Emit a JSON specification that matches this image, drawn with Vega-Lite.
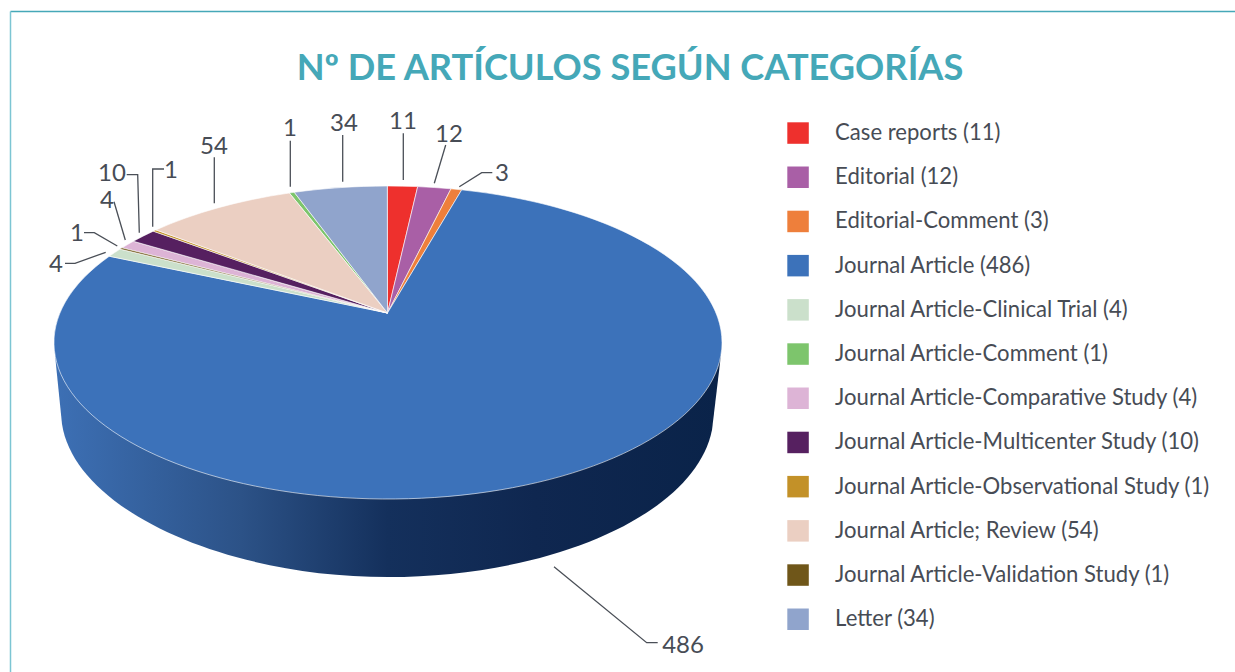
{"$schema":"https://vega.github.io/schema/vega-lite/v6.json","width":1225,"height":661,"padding":{"left":10,"top":11,"right":0,"bottom":0},"autosize":"none","background":"white",
"title":{"text":"Nº DE ARTÍCULOS SEGÚN CATEGORÍAS","font":"Lato","fontWeight":"bold","fontSize":36.2,"color":"#45A8B8","anchor":"middle","dx":7.5,"offset":-105,"baseline":"alphabetic"},
"config":{"view":{"stroke":null},"axis":{"labels":false,"ticks":false,"grid":false,"title":null,"domainWidth":1.5},"axisX":{"domainColor":"#45A8B8"},"axisY":{"domainColor":"#7CC5D3"}},
"data":{"values":[
{"name":"Case reports (11)","count":11},{"name":"Editorial (12)","count":12},{"name":"Editorial-Comment (3)","count":3},{"name":"Journal Article (486)","count":486},{"name":"Journal Article-Clinical Trial (4)","count":4},{"name":"Journal Article-Comment (1)","count":1},{"name":"Journal Article-Comparative Study (4)","count":4},{"name":"Journal Article-Multicenter Study (10)","count":10},{"name":"Journal Article-Observational Study (1)","count":1},{"name":"Journal Article; Review (54)","count":54},{"name":"Journal Article-Validation Study (1)","count":1},{"name":"Letter (34)","count":34}]},
"encoding":{
"x":{"datum":0,"type":"quantitative","scale":{"domain":[-377.5,847.5],"nice":false,"zero":false},"axis":{"orient":"top"}},
"y":{"datum":0,"type":"quantitative","scale":{"domain":[-302,359],"reverse":true,"nice":false,"zero":false},"axis":{"orient":"left"}}},
"resolve":{"scale":{"shape":"independent"}},
"layer":[
{"transform":[{"filter":"datum.count == 486"}],"mark":{"type":"point","filled":true,"opacity":1,"size":4,"shape":"M-333.5 29L-331.5 52L-325.5 111C-312.5 197 -162.5 264 0.5 264C162.5 264 307.5 202 324.5 117L332.5 50L334.5 29Z","fill":{"gradient":"linear","x1":0,"y1":0,"x2":1,"y2":0,"stops":[{"offset":0,"color":"#3D70B5"},{"offset":0.28,"color":"#2C5287"},{"offset":0.5,"color":"#14305C"},{"offset":0.72,"color":"#0F2750"},{"offset":1,"color":"#0A2349"}]}}},
{"mark":{"type":"point","filled":true,"opacity":1,"size":4,"stroke":"white","strokeWidth":0.6},"encoding":{
"color":{"field":"name","type":"nominal","scale":{"domain":["Case reports (11)","Editorial (12)","Editorial-Comment (3)","Journal Article (486)","Journal Article-Clinical Trial (4)","Journal Article-Comment (1)","Journal Article-Comparative Study (4)","Journal Article-Multicenter Study (10)","Journal Article-Observational Study (1)","Journal Article; Review (54)","Journal Article-Validation Study (1)","Letter (34)"],"range":["#EE302D","#A95FA6","#EE7F3B","#3C72BA","#CBE0CB","#7DC56C","#DDB4D6","#562060","#C39128","#EBCFC2","#6F5619","#90A4CC"]},
"legend":{"orient":"none","legendX":777,"legendY":111,"title":null,"padding":0,"symbolType":"square","symbolSize":462,"symbolStrokeWidth":0,"symbolOpacity":1,"labelFont":"Lato","labelFontSize":22.1,"labelColor":"#474C55","labelOffset":26,"labelLimit":420,"rowPadding":21.2}},
"shape":{"field":"name","type":"nominal","legend":null,"scale":{"domain":["Case reports (11)","Editorial (12)","Editorial-Comment (3)","Journal Article (486)","Journal Article-Clinical Trial (4)","Journal Article-Comment (1)","Journal Article-Comparative Study (4)","Journal Article-Multicenter Study (10)","Journal Article-Observational Study (1)","Journal Article; Review (54)","Journal Article-Validation Study (1)","Letter (34)"],"range":[
"M0 0L-0.2 -127A334 156.5 0 0 1 30.2 -126.38Z",
"M0 0L30.2 -126.38A334 156.5 0 0 1 63.5 -124.19Z",
"M0 0L63.5 -124.19A334 156.5 0 0 1 74.2 -123.14Z",
"M0 0L74.2 -123.14A334 156.5 0 1 1 -278.2 -56.75Z",
"M0 0L-278.2 -56.75A334 156.5 0 0 1 -267.5 -63.9Z",
"M0 0L-98.2 -120A334 156.5 0 0 1 -93.2 -120.7Z",
"M0 0L-265.5 -65.14A334 156.5 0 0 1 -254.2 -71.74Z",
"M0 0L-254.2 -71.74A334 156.5 0 0 1 -234.2 -81.84Z",
"M0 0L-234.2 -81.84A334 156.5 0 0 1 -231.5 -83.08Z",
"M0 0L-231.5 -83.08A334 156.5 0 0 1 -98.2 -120Z",
"M0 0L-267.5 -63.9A334 156.5 0 0 1 -265.5 -65.14Z",
"M0 0L-93.2 -120.7A334 156.5 0 0 1 -0.2 -127Z"]}}}},
{"mark":{"type":"point","filled":false,"opacity":1,"size":4,"stroke":"#4A4F57","strokeWidth":1.3},"encoding":{
"shape":{"field":"name","type":"nominal","legend":null,"scale":{"domain":["Case reports (11)","Editorial (12)","Editorial-Comment (3)","Journal Article (486)","Journal Article-Clinical Trial (4)","Journal Article-Comment (1)","Journal Article-Comparative Study (4)","Journal Article-Multicenter Study (10)","Journal Article-Observational Study (1)","Journal Article; Review (54)","Journal Article-Validation Study (1)","Letter (34)"],"range":[
"M15.8 -179.7L15.8 -133",
"M58.2 -168L46.8 -129.7",
"M104.8 -140.3L94.2 -140.3L71.8 -126.3",
"M166.5 253.7L259.2 329.7L270.2 329.7",
"M-322.5 -49.7L-312.5 -49.7L-281.8 -60.7",
"M-97.2 -172.3L-97.2 -126.3",
"M-273.5 -111.3L-262.2 -73",
"M-260.8 -138.3L-249.8 -138.3L-248.2 -80.3",
"M-223.5 -144L-234.8 -144L-234.8 -86.3",
"M-173.2 -155.7L-173.2 -109.7",
"M-303.5 -80.3L-293.2 -80.3L-270.2 -67",
"M-44.8 -178L-44.8 -131.3"]}}}},
{"transform":[{"filter":"datum.name == 'Journal Article (486)'"}],"mark":{"type":"text","font":"Lato","fontSize":24,"fill":"#474C55","dy":1.5},"encoding":{"x":{"datum":295.5},"y":{"datum":331},"text":{"field":"count"}}},
{"transform":[{"filter":"datum.name == 'Editorial-Comment (3)'"}],"mark":{"type":"text","font":"Lato","fontSize":24,"fill":"#474C55","dy":1.5},"encoding":{"x":{"datum":114.5},"y":{"datum":-141},"text":{"field":"count"}}},
{"transform":[{"filter":"datum.name == 'Editorial (12)'"}],"mark":{"type":"text","font":"Lato","fontSize":24,"fill":"#474C55","dy":1.5},"encoding":{"x":{"datum":61.5},"y":{"datum":-180},"text":{"field":"count"}}},
{"transform":[{"filter":"datum.name == 'Case reports (11)'"}],"mark":{"type":"text","font":"Lato","fontSize":24,"fill":"#474C55","dy":1.5},"encoding":{"x":{"datum":15.5},"y":{"datum":-193},"text":{"field":"count"}}},
{"transform":[{"filter":"datum.name == 'Letter (34)'"}],"mark":{"type":"text","font":"Lato","fontSize":24,"fill":"#474C55","dy":1.5},"encoding":{"x":{"datum":-43.5},"y":{"datum":-191},"text":{"field":"count"}}},
{"transform":[{"filter":"datum.name == 'Journal Article-Comment (1)'"}],"mark":{"type":"text","font":"Lato","fontSize":24,"fill":"#474C55","dy":1.5},"encoding":{"x":{"datum":-97.5},"y":{"datum":-186},"text":{"field":"count"}}},
{"transform":[{"filter":"datum.name == 'Journal Article; Review (54)'"}],"mark":{"type":"text","font":"Lato","fontSize":24,"fill":"#474C55","dy":1.5},"encoding":{"x":{"datum":-173.5},"y":{"datum":-168},"text":{"field":"count"}}},
{"transform":[{"filter":"datum.name == 'Journal Article-Observational Study (1)'"}],"mark":{"type":"text","font":"Lato","fontSize":24,"fill":"#474C55","dy":1.5},"encoding":{"x":{"datum":-216.5},"y":{"datum":-144},"text":{"field":"count"}}},
{"transform":[{"filter":"datum.name == 'Journal Article-Multicenter Study (10)'"}],"mark":{"type":"text","font":"Lato","fontSize":24,"fill":"#474C55","dy":1.5},"encoding":{"x":{"datum":-275.5},"y":{"datum":-141},"text":{"field":"count"}}},
{"transform":[{"filter":"datum.name == 'Journal Article-Comparative Study (4)'"}],"mark":{"type":"text","font":"Lato","fontSize":24,"fill":"#474C55","dy":1.5},"encoding":{"x":{"datum":-280.5},"y":{"datum":-114},"text":{"field":"count"}}},
{"transform":[{"filter":"datum.name == 'Journal Article-Validation Study (1)'"}],"mark":{"type":"text","font":"Lato","fontSize":24,"fill":"#474C55","dy":1.5},"encoding":{"x":{"datum":-310.5},"y":{"datum":-81},"text":{"field":"count"}}},
{"transform":[{"filter":"datum.name == 'Journal Article-Clinical Trial (4)'"}],"mark":{"type":"text","font":"Lato","fontSize":24,"fill":"#474C55","dy":1.5},"encoding":{"x":{"datum":-331.5},"y":{"datum":-50},"text":{"field":"count"}}}
]}
